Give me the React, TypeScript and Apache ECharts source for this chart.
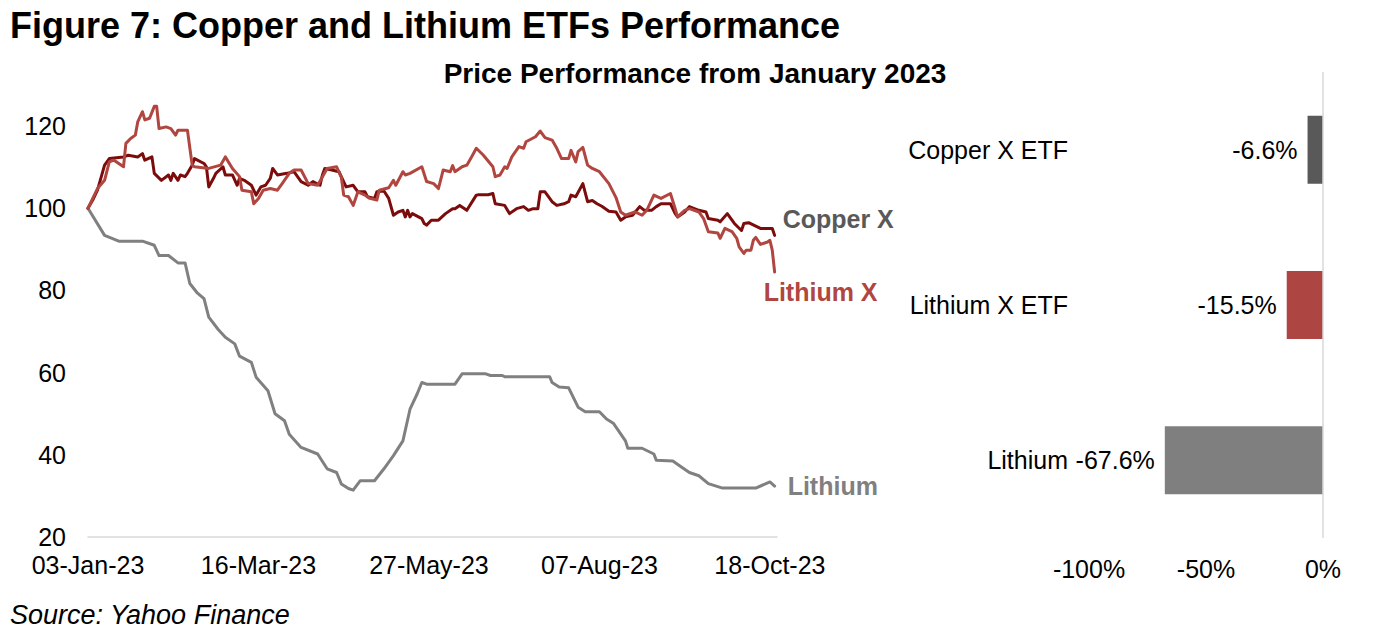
import React, { useEffect, useRef } from "react";
import * as echarts from "echarts";

// ---- Line chart data (x = day offset from 03-Jan-23) ----
const xTickLabels = ["03-Jan-23", "16-Mar-23", "27-May-23", "07-Aug-23", "18-Oct-23"];

const lithiumDays = [0, 7, 13, 23, 28, 30, 34, 38, 41, 43, 46, 49, 51, 55, 58, 62, 64, 69, 71, 76, 79, 83, 85, 90, 97, 101, 105, 107, 110, 112, 115, 121, 125, 129, 133, 136, 139, 141, 143, 155, 158, 168, 170, 175, 176, 195, 196, 199, 203, 207, 210, 216, 219, 222, 227, 228, 234, 239, 240, 247, 250, 254, 258, 262, 268, 282, 288, 290];
const lithiumValues = [100, 93.4, 92, 92, 91, 88.5, 88.5, 86.7, 86.7, 81.7, 79.5, 78, 73.5, 70.5, 68.6, 67, 64, 62.5, 58.9, 55.6, 50, 48.3, 45, 41.8, 40.2, 36.6, 35.7, 32.9, 31.8, 31.4, 33.7, 33.7, 36.6, 39.8, 43.4, 51.1, 54.8, 57.6, 57.2, 57.2, 59.7, 59.7, 59.3, 59.3, 59, 59, 57.6, 56.5, 56.3, 51.6, 50.5, 50.5, 48.7, 47.6, 43.4, 41.6, 41.6, 40.2, 38.7, 38.5, 37.3, 35.7, 34.9, 33, 31.9, 31.9, 33.4, 32.4];

const copperXDays = [0, 2, 4, 7, 9, 15, 17, 21, 23, 24, 27, 28, 31, 34, 35, 36, 38, 39, 41, 42, 44, 45, 49, 50, 51, 53, 54, 57, 58, 61, 63, 64, 66, 69, 71, 73, 75, 77, 78, 80, 84, 87, 90, 93, 95, 98, 99, 100, 103, 106, 109, 112, 114, 117, 118, 121, 122, 125, 127, 129, 131, 133, 134, 135, 136, 137, 141, 142, 143, 145, 148, 151, 154, 155, 157, 160, 164, 165, 169, 171, 172, 176, 178, 181, 184, 186, 188, 190, 191, 193, 196, 198, 201, 203, 204, 206, 209, 211, 213, 215, 217, 220, 223, 225, 227, 230, 233, 235, 238, 240, 242, 246, 248, 249, 252, 254, 258, 261, 262, 266, 267, 270, 273, 276, 277, 279, 284, 289, 290];
const copperXValues = [100, 102, 104.4, 110.5, 112.1, 112.5, 112.9, 112.5, 113.3, 111.7, 112.5, 108.5, 106.8, 108.1, 106.8, 108.5, 106.8, 108.1, 107.7, 108.5, 110.5, 112.1, 110.9, 110.1, 105.2, 107.3, 108.5, 110.1, 108.1, 108.1, 105.6, 107.3, 106.8, 105.6, 103.2, 105.2, 105.6, 107.3, 109.7, 108.1, 108.5, 108.9, 106.5, 105.6, 106.5, 105.6, 108.1, 109.7, 109.3, 108.9, 105.2, 105.6, 104, 104, 102.8, 102.4, 104, 104.2, 102.4, 98.3, 99.1, 99.5, 97.9, 99.5, 97.9, 98.7, 97.5, 96.3, 95.9, 97.1, 97.1, 98.7, 99.9, 99.9, 100.7, 99.5, 103.2, 103.3, 103.3, 103.6, 101.1, 100.7, 98.7, 99.9, 100.4, 99.5, 99.9, 99.9, 104, 104, 101.6, 100.7, 101.1, 101.6, 103.2, 102.8, 106, 101.6, 101.9, 101.1, 100.5, 99.3, 99.1, 97.1, 97.9, 98.3, 100.4, 99.5, 99.5, 100.4, 101.1, 101.1, 98.7, 97.9, 99.1, 100.4, 99.5, 99.1, 97.5, 97.1, 96.7, 98.7, 96.3, 94.6, 96.3, 96.5, 95.1, 95.1, 93.4];

const lithiumXDays = [0, 2, 4, 7, 9, 11, 15, 16, 18, 20, 21, 23, 24, 26, 28, 29, 30, 33, 35, 37, 38, 42, 44, 45, 51, 56, 58, 61, 64, 65, 69, 70, 72, 74, 77, 80, 82, 85, 87, 90, 93, 97, 101, 105, 107, 108, 110, 112, 114, 117, 119, 122, 123, 127, 129, 130, 133, 134, 136, 141, 143, 146, 148, 150, 153, 154, 155, 158, 160, 162, 164, 167, 171, 172, 174, 176, 177, 179, 182, 184, 185, 189, 191, 193, 196, 198, 200, 203, 204, 206, 207, 209, 211, 213, 216, 220, 223, 225, 227, 231, 234, 236, 239, 242, 246, 248, 249, 252, 254, 258, 260, 262, 266, 267, 269, 272, 274, 275, 277, 278, 280, 281, 282, 284, 287, 288, 289, 290];
const lithiumXValues = [100, 102.4, 104.8, 106.8, 111.3, 111.7, 110.1, 115.8, 117, 117.8, 121, 123.5, 121.5, 121.9, 124.8, 124.8, 119.4, 119.8, 119.4, 117.8, 119, 119, 110.5, 110.1, 109.7, 110.5, 112.5, 109.7, 107.7, 104.4, 104, 101.1, 102.4, 104.4, 104.8, 104.4, 106, 108.5, 109.3, 109.3, 106, 105.6, 109.7, 110.1, 107.5, 103.2, 102.8, 100.7, 104, 103.2, 102.4, 102, 104.4, 105, 106.8, 105.6, 108.9, 108.1, 108.5, 110.1, 106.5, 106, 104.8, 109.3, 108.9, 110.4, 108.9, 110.1, 110.5, 112.5, 114.6, 112.9, 110.1, 107.7, 108.1, 110.1, 109.7, 112.5, 115, 114.6, 116.2, 117.4, 118.8, 117.2, 116.6, 114.6, 112.1, 112.1, 114.1, 111.3, 113.8, 114.8, 110.5, 109.7, 108.9, 106, 102.6, 99.1, 98.3, 99.1, 98.3, 99.5, 103.2, 102.4, 103.6, 99.9, 97.9, 99.5, 99.9, 99.1, 97.5, 94.3, 94, 92.7, 95.1, 94.3, 92.7, 90.6, 89, 89.8, 89.8, 92.2, 92.9, 91.2, 91.8, 92.2, 89.8, 84.5];

// ---- Bar chart data ----
const barCategories = ["Copper X ETF", "Lithium X ETF", "Lithium"];
const barValues = [-6.6, -15.5, -67.6];
const barColors = ["#595959", "#ad4642", "#7f7f7f"];

const FONT = "'Liberation Sans', Arial, Helvetica, sans-serif";

function pairs(days: number[], vals: number[]) {
  return days.map((d, i) => [d, vals[i]]);
}

export default function App() {
  const ref = useRef<HTMLDivElement>(null);
  useEffect(() => {
    if (!ref.current) return;
    const chart = echarts.init(ref.current, null, { renderer: "svg" });
    const lineBase = (name: string, color: string, data: number[][], labelColor: string, offset: number[]) => ({
      name,
      type: "line",
      xAxisIndex: 0,
      yAxisIndex: 0,
      data,
      showSymbol: false,
      symbol: "none",
      lineStyle: { color, width: 3, join: "round", cap: "round" },
      itemStyle: { color },
      endLabel: {
        show: true,
        formatter: name,
        color: labelColor,
        fontFamily: FONT,
        fontWeight: "bold",
        fontSize: 25,
        distance: 0,
        offset,
      },
      z: 2,
    });
    chart.setOption({
      animation: false,
      textStyle: { fontFamily: FONT },
      grid: [
        { left: 88, right: 598, top: 85, bottom: 103 },
        { left: 1089, right: 52, top: 72, bottom: 102 },
      ],
      xAxis: [
        {
          type: "value",
          gridIndex: 0,
          min: 0,
          max: 291,
          interval: 72,
          axisLine: { show: true, lineStyle: { color: "#d9d9d9", width: 1.5 } },
          axisTick: { show: false },
          splitLine: { show: false },
          axisLabel: {
            showMaxLabel: false,
            fontSize: 25,
            color: "#000",
            fontFamily: FONT,
            margin: 15,
            formatter: (v: number) => (v % 72 === 0 ? xTickLabels[v / 72] ?? "" : ""),
          },
        },
        {
          type: "value",
          gridIndex: 1,
          min: -100,
          max: 0,
          interval: 50,
          axisLine: { show: false },
          axisTick: { show: false },
          splitLine: { show: false },
          axisLabel: {
            fontSize: 25,
            color: "#000",
            fontFamily: FONT,
            margin: 18,
            formatter: (v: number) => `${v}%`,
          },
        },
      ],
      yAxis: [
        {
          type: "value",
          gridIndex: 0,
          min: 20,
          max: 130,
          interval: 20,
          axisLine: { show: false },
          axisTick: { show: false },
          splitLine: { show: false },
          axisLabel: {
            showMaxLabel: false,
            fontSize: 25,
            color: "#000",
            fontFamily: FONT,
            margin: 22,
            formatter: (v: number) => (v > 120 ? "" : String(v)),
          },
        },
        {
          type: "category",
          gridIndex: 1,
          inverse: true,
          data: barCategories,
          axisLine: { show: false },
          axisTick: { show: false },
          axisLabel: { fontSize: 25, color: "#000", fontFamily: FONT, margin: 21 },
        },
      ],
      series: [
        lineBase("Lithium", "#808080", pairs(lithiumDays, lithiumValues), "#808080", [13, 0]),
        lineBase("Copper X", "#7c0c0c", pairs(copperXDays, copperXValues), "#595959", [8, -16]),
        lineBase("Lithium X", "#b0463f", pairs(lithiumXDays, lithiumXValues), "#b0463f", [-11, 20]),
        {
          name: "Performance",
          type: "bar",
          xAxisIndex: 1,
          yAxisIndex: 1,
          barWidth: 68,
          data: barValues.map((v, i) => ({ value: v, itemStyle: { color: barColors[i] } })),
          label: {
            show: true,
            position: "left",
            distance: 10,
            fontSize: 25,
            color: "#000",
            fontFamily: FONT,
            formatter: (p: any) => `${Number(p.value).toFixed(1)}%`,
          },
          markLine: {
            silent: true,
            symbol: "none",
            label: { show: false },
            lineStyle: { color: "#d9d9d9", type: "solid", width: 1.5 },
            data: [{ xAxis: 0 }],
          },
        },
      ],
      graphic: [
        {
          type: "text",
          x: 10,
          y: 25,
          style: {
            text: "Figure 7: Copper and Lithium ETFs Performance",
            font: `bold 36px ${FONT}`,
            fill: "#000",
            textAlign: "left",
            textVerticalAlign: "middle",
          },
        },
        {
          type: "text",
          x: 695,
          y: 73,
          style: {
            text: "Price Performance from January 2023",
            font: `bold 28px ${FONT}`,
            fill: "#000",
            textAlign: "center",
            textVerticalAlign: "middle",
          },
        },
        {
          type: "text",
          x: 10,
          y: 615,
          style: {
            text: "Source: Yahoo Finance",
            font: `italic 27px ${FONT}`,
            fill: "#000",
            textAlign: "left",
            textVerticalAlign: "middle",
          },
        },
      ],
    });
    return () => chart.dispose();
  }, []);
  return (
    <div
      ref={ref}
      style={{ position: "absolute", left: 0, top: 0, width: 1375, height: 640, background: "#fff" }}
    />
  );
}
